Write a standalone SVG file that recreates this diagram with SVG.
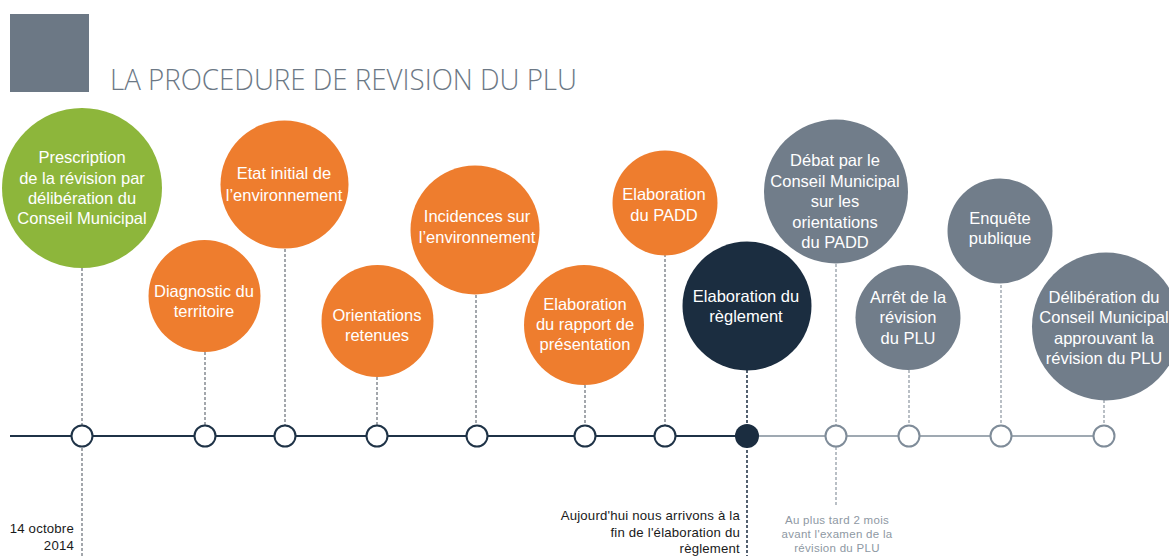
<svg xmlns="http://www.w3.org/2000/svg" width="1169" height="556" viewBox="0 0 1169 556">
<style>
.t{font-family:"Liberation Sans",Arial,sans-serif;font-size:16.5px;fill:#ffffff;text-anchor:middle}
.green{fill:#8db63b}
.orange{fill:#ee7d2e}
.navy{fill:#1b2d40}
.gray{fill:#717d8a}
.dash{stroke:#858b91;stroke-width:1.5;stroke-dasharray:3 2;fill:none}
.dashL{stroke:#a3abb3;stroke-width:1.5;stroke-dasharray:3 2;fill:none}
.mk{fill:#ffffff;stroke:#1f3347;stroke-width:2}
.mkL{fill:#ffffff;stroke:#7f8c99;stroke-width:2}
.note{font-family:"Liberation Sans",Arial,sans-serif;font-size:13.2px;letter-spacing:0.2px;fill:#1a1a1a;text-anchor:end}
.noteL{font-family:"Liberation Sans",Arial,sans-serif;font-size:11.5px;letter-spacing:0.3px;fill:#8e98a3;text-anchor:middle}
</style>
<rect width="1169" height="556" fill="#ffffff"/>
<g id="title">
<rect x="10" y="14" width="79" height="78" fill="#6c7885"/>
<text x="110" y="90" font-family="'Open Sans','Liberation Sans',sans-serif" font-weight="300" font-size="29" fill="#6c7885" textLength="467" lengthAdjust="spacingAndGlyphs">LA PROCEDURE DE REVISION DU PLU</text>
</g>
<g id="connectors">
<line x1="10" y1="436" x2="747" y2="436" stroke="#1f3347" stroke-width="2"/>
<line x1="747" y1="436" x2="1104" y2="436" stroke="#7f8c99" stroke-width="1.5"/>
<line class="dash" x1="82" y1="268" x2="82" y2="556"/>
<line class="dash" x1="205" y1="352" x2="205" y2="425"/>
<line class="dash" x1="285" y1="249" x2="285" y2="425"/>
<line class="dash" x1="377" y1="377" x2="377" y2="425"/>
<line class="dash" x1="476" y1="295" x2="476" y2="425"/>
<line class="dash" x1="585" y1="385" x2="585" y2="425"/>
<line class="dash" x1="665" y1="254" x2="665" y2="425"/>
<line x1="747" y1="370" x2="747" y2="556" stroke="#1b2d40" stroke-width="1.5" stroke-dasharray="3 2"/>
<line class="dashL" x1="836" y1="264" x2="836" y2="425"/>
<line class="dashL" x1="836" y1="447" x2="836" y2="505"/>
<line class="dashL" x1="909" y1="370" x2="909" y2="425"/>
<line class="dashL" x1="1001" y1="285" x2="1001" y2="425"/>
<line class="dashL" x1="1104" y1="400" x2="1104" y2="425"/>
</g>
<g id="n1">
<circle class="green" cx="82" cy="188" r="80"/>
<text class="t" x="82" y="163">Prescription</text>
<text class="t" x="82" y="184">de la révision par</text>
<text class="t" x="82" y="204">délibération du</text>
<text class="t" x="82" y="224">Conseil Municipal</text>
<circle class="mk" cx="82" cy="436" r="10.5"/>
</g>
<g id="n2">
<circle class="orange" cx="204.5" cy="296" r="56"/>
<text class="t" x="204" y="297">Diagnostic du</text>
<text class="t" x="204" y="317">territoire</text>
<circle class="mk" cx="205" cy="436" r="10.5"/>
</g>
<g id="n3">
<circle class="orange" cx="284.5" cy="184.5" r="64"/>
<text class="t" x="284" y="179">Etat initial de</text>
<text class="t" x="284" y="200.5">l’environnement</text>
<circle class="mk" cx="285" cy="436" r="10.5"/>
</g>
<g id="n4">
<circle class="orange" cx="377.5" cy="321" r="56"/>
<text class="t" x="377" y="321">Orientations</text>
<text class="t" x="377" y="341">retenues</text>
<circle class="mk" cx="377" cy="436" r="10.5"/>
</g>
<g id="n5">
<circle class="orange" cx="475" cy="230" r="64.5"/>
<text class="t" x="477" y="222">Incidences sur</text>
<text class="t" x="477" y="243">l’environnement</text>
<circle class="mk" cx="477" cy="436" r="10.5"/>
</g>
<g id="n6">
<circle class="orange" cx="584" cy="325" r="60"/>
<text class="t" x="585" y="310">Elaboration</text>
<text class="t" x="585" y="330">du rapport de</text>
<text class="t" x="585" y="350">présentation</text>
<circle class="mk" cx="585" cy="436" r="10.5"/>
</g>
<g id="n7">
<circle class="orange" cx="665" cy="203" r="52.5"/>
<text class="t" x="664" y="200">Elaboration</text>
<text class="t" x="664" y="221">du PADD</text>
<circle class="mk" cx="665" cy="436" r="10.5"/>
</g>
<g id="n8">
<circle class="navy" cx="747" cy="306" r="64.5"/>
<text class="t" x="746" y="302">Elaboration du</text>
<text class="t" x="746" y="322">règlement</text>
<circle cx="747" cy="436" r="12" fill="#1b2d40"/>
</g>
<g id="n9">
<circle class="gray" cx="836" cy="191.5" r="72"/>
<text class="t" x="835" y="166">Débat par le</text>
<text class="t" x="835" y="186.5">Conseil Municipal</text>
<text class="t" x="835" y="207">sur les</text>
<text class="t" x="835" y="227.5">orientations</text>
<text class="t" x="835" y="248">du PADD</text>
<circle class="mkL" cx="836" cy="436" r="10.5"/>
</g>
<g id="n10">
<circle class="gray" cx="908" cy="317.5" r="52.5"/>
<text class="t" x="908" y="303">Arrêt de la</text>
<text class="t" x="908" y="323">révision</text>
<text class="t" x="908" y="344">du PLU</text>
<circle class="mkL" cx="909" cy="436" r="10.5"/>
</g>
<g id="n11">
<circle class="gray" cx="1000" cy="231" r="52.5"/>
<text class="t" x="1000" y="224">Enquête</text>
<text class="t" x="1000" y="244">publique</text>
<circle class="mkL" cx="1001" cy="436" r="10.5"/>
</g>
<g id="n12">
<circle class="gray" cx="1106" cy="326.5" r="74"/>
<text class="t" x="1104" y="303">Délibération du</text>
<text class="t" x="1104" y="323">Conseil Municipal</text>
<text class="t" x="1104" y="344">approuvant la</text>
<text class="t" x="1104" y="364">révision du PLU</text>
<circle class="mkL" cx="1104" cy="436" r="10.5"/>
</g>
<g id="notes">
<text class="note" x="74" y="533">14 octobre</text>
<text class="note" x="74" y="550">2014</text>
<text class="note" x="740" y="520">Aujourd'hui nous arrivons à la</text>
<text class="note" x="740" y="537">fin de l'élaboration du</text>
<text class="note" x="740" y="553">règlement</text>
<text class="noteL" x="837" y="524">Au plus tard 2 mois</text>
<text class="noteL" x="837" y="538">avant l'examen de la</text>
<text class="noteL" x="837" y="552">révision du PLU</text>
</g>
</svg>
